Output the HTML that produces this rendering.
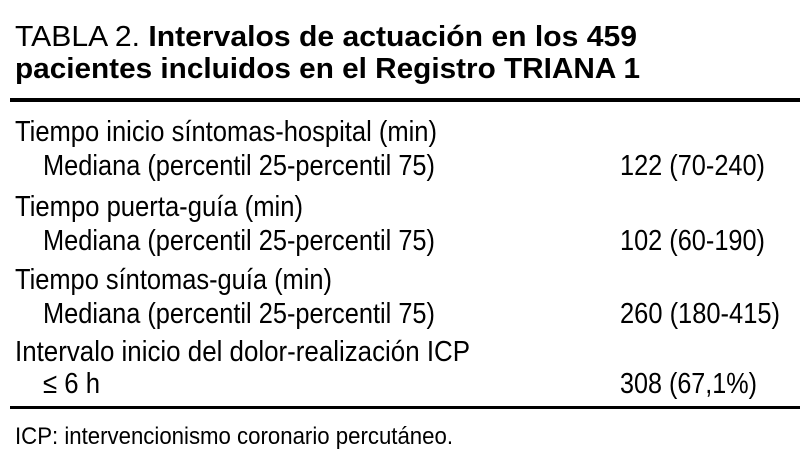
<!DOCTYPE html>
<html><head><meta charset="utf-8">
<style>
html,body{margin:0;padding:0;background:#fff;}
body{width:800px;height:465px;position:relative;overflow:hidden;font-family:"Liberation Sans Narrow","Liberation Sans",sans-serif;color:#000;}
.t{position:absolute;white-space:nowrap;transform-origin:0 0;line-height:1;}
.rule{position:absolute;left:10px;width:790px;background:#000;}
b{font-weight:bold;}
</style></head><body>
<div class="t" data-x="15" data-w="622" data-b="48" data-fs="29">TABLA 2. <b>Intervalos de actuación en los 459</b></div>
<div class="t" data-x="15" data-w="625" data-b="80" data-fs="29"><b>pacientes incluidos en el Registro TRIANA 1</b></div>
<div class="rule" style="top:98px;height:4px"></div>

<div class="t" data-x="15" data-w="422" data-b="143" data-fs="29">Tiempo inicio síntomas-hospital (min)</div>
<div class="t" data-x="43" data-w="392" data-b="177" data-fs="29">Mediana (percentil 25-percentil 75)</div>
<div class="t" data-x="620" data-w="145" data-b="177" data-fs="29">122 (70-240)</div>

<div class="t" data-x="15" data-w="288" data-b="218" data-fs="29">Tiempo puerta-guía (min)</div>
<div class="t" data-x="43" data-w="392" data-b="252" data-fs="29">Mediana (percentil 25-percentil 75)</div>
<div class="t" data-x="620" data-w="145" data-b="252" data-fs="29">102 (60-190)</div>

<div class="t" data-x="15" data-w="317" data-b="291" data-fs="29">Tiempo síntomas-guía (min)</div>
<div class="t" data-x="43" data-w="392" data-b="325" data-fs="29">Mediana (percentil 25-percentil 75)</div>
<div class="t" data-x="620" data-w="160" data-b="325" data-fs="29">260 (180-415)</div>

<div class="t" data-x="15" data-w="455" data-b="363" data-fs="29">Intervalo inicio del dolor-realización ICP</div>
<div class="t" data-x="43" data-w="57" data-b="395" data-fs="29">≤ 6 h</div>
<div class="t" data-x="620" data-w="137" data-b="395" data-fs="29">308 (67,1%)</div>

<div class="rule" style="top:406px;height:3px"></div>
<div class="t" data-x="15" data-w="438" data-b="445" data-fs="24">ICP: intervencionismo coronario percutáneo.</div>

<script>
document.querySelectorAll('.t').forEach(function(el){
  var fs=+el.dataset.fs;
  el.style.fontSize=fs+'px';
  el.style.left=el.dataset.x+'px';
  el.style.top=(+el.dataset.b - fs*0.85)+'px';
  var w=el.getBoundingClientRect().width;
  var s=(+el.dataset.w)/w;
  el.style.transform='scaleX('+s+')';
});
</script>
</body></html>
